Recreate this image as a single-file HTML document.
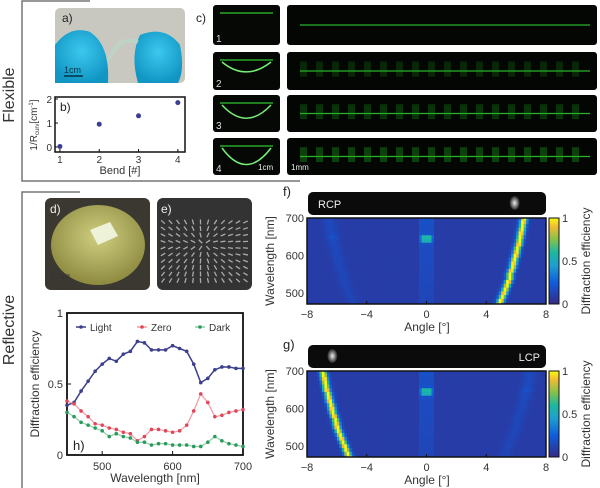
<!DOCTYPE html>
<html><head><meta charset="utf-8">
<style>
body{margin:0;background:#fff;}
svg{display:block;font-family:"Liberation Sans",sans-serif;}
</style></head>
<body>
<svg id="fig" width="600" height="488" viewBox="0 0 600 488" xmlns="http://www.w3.org/2000/svg">
<defs>
<linearGradient id="parula" x1="0" y1="1" x2="0" y2="0">
<stop offset="0" stop-color="#352a87"/><stop offset="0.25" stop-color="#0f5cdd"/><stop offset="0.45" stop-color="#1e9fd0"/><stop offset="0.6" stop-color="#1cb8a0"/><stop offset="0.75" stop-color="#84c14a"/><stop offset="0.9" stop-color="#f1bb33"/><stop offset="1" stop-color="#f9fb0e"/>
</linearGradient>
<radialGradient id="glove" cx="0.5" cy="0.4" r="0.6"><stop offset="0" stop-color="#3cc8ee"/><stop offset="1" stop-color="#1196c4"/></radialGradient>
<radialGradient id="disc" cx="0.5" cy="0.4" r="0.6"><stop offset="0" stop-color="#cfcf80"/><stop offset="1" stop-color="#8d8a40"/></radialGradient>
<radialGradient id="spot" cx="0.5" cy="0.5" r="0.5"><stop offset="0" stop-color="#eee"/><stop offset="1" stop-color="#222"/></radialGradient>
</defs>
<g stroke="#777" fill="none" stroke-width="1.5">
<path d="M90 1 H22 V181 H300"/>
<path d="M80 192 H22 V488"/>
</g>
<text x="14" y="95" font-size="16" fill="#333" text-anchor="middle" transform="rotate(-90 14 95)">Flexible</text>
<text x="14" y="330" font-size="16" fill="#333" text-anchor="middle" transform="rotate(-90 14 330)">Reflective</text>

<g>
<rect x="55" y="8" width="130" height="75" rx="5" fill="#c9c8c0"/>
<path d="M55 45 Q70 25 90 32 Q110 45 108 83 H55 Z" fill="url(#glove)"/>
<path d="M140 35 Q165 25 180 45 Q185 70 178 83 H138 Q130 55 140 35 Z" fill="url(#glove)"/>
<path d="M108 60 Q120 35 138 42" stroke="#b8d8c8" stroke-width="4" fill="none" opacity="0.7"/>
<text x="62" y="22" font-size="12" fill="#222">a)</text>
<text x="64" y="73" font-size="9" fill="#034">1cm</text>
<line x1="64" y1="76" x2="83" y2="76" stroke="#034" stroke-width="1.5"/>
</g>

<g>
<rect x="55" y="97" width="130" height="55" fill="#fff" stroke="#111" stroke-width="1.5"/>
<g id="bTicks" font-size="10" fill="#333"></g>
<g id="bPts"></g>
<text x="60" y="111" font-size="12" fill="#222">b)</text>
<text x="120" y="174" font-size="11" fill="#333" text-anchor="middle">Bend [#]</text>
<text x="37" y="125" font-size="10" fill="#333" text-anchor="middle" transform="rotate(-90 37 125)">1/R<tspan font-size="6" dy="2">curv</tspan><tspan dy="-2">[cm</tspan><tspan font-size="6" dy="-4">-1</tspan><tspan dy="4">]</tspan></text>
</g>

<text x="196" y="22" font-size="12" fill="#222">c)</text>
<g id="cPanels"></g>

<g>
<rect x="45" y="198" width="105" height="92" rx="6" fill="#3a3830"/>
<ellipse cx="98" cy="245" rx="47" ry="40" fill="url(#disc)"/>
<polygon points="90,230 110,222 118,236 98,245" fill="#eef2d8"/>
<text x="50" y="213" font-size="12" fill="#eee">d)</text>
<text x="50" y="279" font-size="9" fill="#333">5mm</text>
</g>
<g>
<rect x="157" y="198" width="95" height="92" rx="6" fill="#333"/>
<g id="ePat" stroke="#aaa" stroke-width="1.3"></g>
<text x="161" y="213" font-size="12" fill="#eee">e)</text>
</g>

<g>
<rect x="67" y="313" width="176" height="142" fill="#fff" stroke="#111" stroke-width="1.8"/>
<g id="hTicks" font-size="11" fill="#333"></g>
<g id="hSeries"></g>
<text x="73" y="450" font-size="13" fill="#222">h)</text>
<text x="155" y="482" font-size="12" fill="#333" text-anchor="middle">Wavelength [nm]</text>
<text x="39" y="384" font-size="12" fill="#333" text-anchor="middle" transform="rotate(-90 39 384)">Diffraction efficiency</text>
<g id="hLegend" font-size="10" fill="#333"></g>
</g>

<g id="heatF"></g>
<g id="heatG"></g>
</svg>
<script>
const bendX = [1, 2, 3, 4];
const bendY = [0.02, 0.95, 1.3, 1.85];
const bXTicks = [1, 2, 3, 4];
const bYTicks = [0, 1, 2];

const wl = [450,460,470,480,490,500,510,520,530,540,550,560,570,580,590,600,610,620,630,640,650,660,670,680,690,700];
const lightVals = [0.35,0.37,0.45,0.52,0.59,0.64,0.68,0.66,0.71,0.73,0.80,0.79,0.74,0.74,0.74,0.77,0.75,0.73,0.64,0.51,0.54,0.60,0.62,0.62,0.61,0.61];
const zeroVals  = [0.38,0.36,0.31,0.27,0.22,0.21,0.19,0.18,0.16,0.15,0.10,0.13,0.18,0.18,0.17,0.16,0.17,0.21,0.31,0.43,0.37,0.27,0.28,0.30,0.31,0.32];
const darkVals  = [0.30,0.27,0.23,0.21,0.19,0.17,0.13,0.15,0.13,0.12,0.09,0.09,0.07,0.08,0.08,0.07,0.07,0.07,0.06,0.06,0.09,0.13,0.10,0.08,0.07,0.06];
const hXTicks = [500, 600, 700];
const hYTicks = [0, 0.5, 1];
const hYTickLabels = ["0", "0.5", "1"];
const seriesNames = ["Light", "Zero", "Dark"];

const mapWl = [470,480,490,500,510,520,530,540,550,560,570,580,590,600,610,620,630,640,650,660,670,680,690,700];
const rcpPeak = [4.9,5.0,5.1,5.2,5.3,5.4,5.5,5.6,5.6,5.7,5.8,5.85,5.9,6.0,6.05,6.1,6.2,6.25,6.3,6.35,6.4,6.45,6.5,6.55];
const lcpPeak = [-5.2,-5.3,-5.4,-5.5,-5.6,-5.7,-5.8,-5.9,-6.0,-6.05,-6.1,-6.2,-6.3,-6.35,-6.4,-6.5,-6.55,-6.6,-6.7,-6.75,-6.8,-6.85,-6.9,-6.95];
const zeroOrder = [0.15,0.15,0.16,0.16,0.17,0.17,0.18,0.18,0.18,0.18,0.2,0.2,0.2,0.2,0.22,0.22,0.25,0.5,0.55,0.3,0.25,0.25,0.28,0.28];
const ghostOrder = [0.09,0.09,0.09,0.1,0.1,0.1,0.1,0.11,0.11,0.11,0.11,0.12,0.12,0.12,0.13,0.13,0.14,0.15,0.2,0.15,0.14,0.14,0.14,0.15];
const angleTicks = [-8, -4, 0, 4, 8];
const mapWlTicks = [500, 600, 700];
const cbTicks = [0, 0.5, 1];

const NS = "http://www.w3.org/2000/svg";
function mk(tag, attrs, parent, txt){const e=document.createElementNS(NS,tag);for(const k in attrs)e.setAttribute(k,attrs[k]);if(txt!==undefined)e.textContent=txt;parent.appendChild(e);return e;}

const bx = v => 56 + (v - 0.9) * 39.3;
const by = v => 147 - v * 24;
const bT = document.getElementById('bTicks');
bXTicks.forEach(t=>{const e=mk('text',{x:bx(t),y:163,'text-anchor':'middle'},bT,t);


mk('line',{x1:bx(t),x2:bx(t),y1:152,y2:149,stroke:'#111'},bT);});
bYTicks.forEach(t=>{const e=mk('text',{x:52,y:by(t)+4,'text-anchor':'end'},bT,t);


mk('line',{x1:55,x2:58,y1:by(t),y2:by(t),stroke:'#111'},bT);});
const bP = document.getElementById('bPts');
bendX.forEach((x,i)=>{const c=mk('circle',{cx:bx(x),cy:by(bendY[i]),r:2.5,fill:'#3c3f8f'},bP);

});

const cP = document.getElementById('cPanels');
const rows = [[5,45],[52,90],[95,132],[138,175]];
rows.forEach((r,i)=>{
  const h=r[1]-r[0];
  const s=mk('rect',{x:213,y:r[0],width:67,height:h,rx:3,fill:'#050805'},cP);
  
  
  mk('line',{x1:220,x2:273,y1:r[0]+8,y2:r[0]+8,stroke:'#3c3',opacity:0.8,'stroke-width':1.5},cP);
  if(i>0){const d=6+i*3;mk('path',{d:`M222 ${r[0]+10} Q246 ${r[0]+10+d*2.2} 271 ${r[0]+10}`,stroke:'#7e7',fill:'none','stroke-width':1.5},cP);}
  mk('text',{x:216,y:r[1]-3,'font-size':10,fill:'#ddd'},cP,i+1);
  const b=mk('rect',{x:287,y:r[0],width:310,height:h,rx:3,fill:'#030603'},cP);
  
  
  mk('line',{x1:300,x2:590,y1:r[0]+h*0.5,y2:r[0]+h*0.5,stroke:'#3d3',opacity:0.8,'stroke-width':1.2},cP);
  if(i>0){for(let k=0;k<18;k++){mk('rect',{x:300+k*16,y:r[0]+h*0.25,width:7,height:h*0.4,fill:'#2a2',opacity:0.12+0.08*i},cP);}}
});
mk('text',{x:258,y:170,'font-size':8,fill:'#eee'},cP,'1cm');
mk('text',{x:291,y:170,'font-size':8,fill:'#eee'},cP,'1mm');

const eP=document.getElementById('ePat');
for(let r=0;r<10;r++)for(let c=0;c<12;c++){const cx=163+c*7.5,cy=222+r*6.5;const a=Math.atan2(cy-244,cx-205)*0.9;
mk('line',{x1:cx-2.5*Math.cos(a),y1:cy-2.5*Math.sin(a),x2:cx+2.5*Math.cos(a),y2:cy+2.5*Math.sin(a)},eP);}

const hx = v => 67 + (v - 450) / 250 * 176;
const hy = v => 455 - v * 142;
const hT=document.getElementById('hTicks');
hXTicks.forEach(t=>{const e=mk('text',{x:hx(t),y:470,'text-anchor':'middle'},hT,t);


mk('line',{x1:hx(t),x2:hx(t),y1:455,y2:451,stroke:'#111'},hT);});
hYTicks.forEach((t,i)=>{const e=mk('text',{x:63,y:hy(t)+4,'text-anchor':'end'},hT,hYTickLabels[i]);


mk('line',{x1:67,x2:71,y1:hy(t),y2:hy(t),stroke:'#111'},hT);});
const colors=['#3b3f8c','#e0475a','#2a9a5c'];
const lineCols=['#3b3f8c','#f09aa2','#8fcfa8'];
const hS=document.getElementById('hSeries');
[lightVals,zeroVals,darkVals].forEach((vals,si)=>{
  const p=mk('polyline',{points:vals.map((v,i)=>hx(wl[i])+','+hy(v)).join(' '),fill:'none',stroke:lineCols[si],'stroke-width':si==0?1.5:1.2},hS);
  
  
  vals.forEach((v,i)=>{const c=mk('circle',{cx:hx(wl[i]),cy:hy(v),r:1.8,fill:colors[si]},hS);
  
  });
});
const hL=document.getElementById('hLegend');
[[76,0],[137,1],[195,2]].forEach(([lx,si])=>{
  const g=mk('g',{},hL);
  
  
  mk('line',{x1:lx,x2:lx+10,y1:327,y2:327,stroke:lineCols[si],'stroke-width':1.5},g);
  mk('circle',{cx:lx+5,cy:327,r:1.8,fill:colors[si]},g);
  mk('text',{x:lx+14,y:331},g,seriesNames[si]);
});

const par=[[0,[53,42,135]],[0.25,[15,92,221]],[0.45,[30,159,208]],[0.6,[28,184,160]],[0.75,[132,193,74]],[0.9,[241,187,51]],[1,[249,251,14]]];
function cmap(v){v=Math.max(0,Math.min(1,v));for(let i=1;i<par.length;i++){if(v<=par[i][0]){const a=par[i-1],b=par[i],t=(v-a[0])/(b[0]-a[0]);return 'rgb('+a[1].map((c,k)=>Math.round(c+(b[1][k]-c)*t)).join(',')+')';}}return 'rgb(249,251,14)';}
function heat(gid, top, peaks, sign, label, labelX, panel, spotX){
  const g=document.getElementById(gid);
  const L=307,R=546,T=top,B=top+86;
  const ax=a=>L+(a+8)/16*(R-L);
  const ay=w=>T+(700-w)/230*(B-T);
  mk('rect',{x:308,y:T-26,width:238,height:23,rx:5,fill:'#0b0b0b'},g);
  mk('ellipse',{cx:ax(spotX),cy:T-15,rx:5,ry:7,fill:'url(#spot)'},g);
  mk('text',{x:labelX,y:T-10,'font-size':11,fill:'#eee','text-anchor':labelX>400?'end':'start'},g,label);
  mk('text',{x:283,y:T-22,'font-size':13,fill:'#222'},g,panel);
  const cells=mk('g',{},g);
  const N=96,dA=16/N;
  mapWl.forEach((w,ri)=>{
    const y0=Math.max(T,ay(w+5)),y1=Math.min(B,ay(w-5));
    for(let c=0;c<N;c++){
      const a=-8+(c+0.5)*dA;
      let v=0.09;
      const d=a-peaks[ri];
      v+=0.91*Math.exp(-d*d/(2*0.16*0.16));
      if(sign*d<0&&Math.abs(d)<0.6) v+=0.15*(1-Math.abs(d)/0.6);
      if(Math.abs(a)<0.5) v+=zeroOrder[ri]*(ri>=17&&ri<=18&&Math.abs(a)<0.35?0.9:0.35);
      const ga=-peaks[ri];
      v+=ghostOrder[ri]*0.5*Math.exp(-(a-ga)*(a-ga)/(2*0.3*0.3));
      const r=mk('rect',{x:ax(a-dA/2),y:y0,width:(R-L)/N+0.4,height:y1-y0+0.4,fill:cmap(v)},cells);
      
      
    }
  });
  mk('rect',{x:L,y:T,width:R-L,height:B-T,fill:'none',stroke:'#111','stroke-width':1.5},g);
  angleTicks.forEach(t=>{const e=mk('text',{x:ax(t),y:B+14,'font-size':11,fill:'#333','text-anchor':'middle'},g,t===-8||t===-4?'\u2212'+(-t):t);
  
  
  mk('line',{x1:ax(t),x2:ax(t),y1:B,y2:B-3,stroke:'#111'},g);});
  mapWlTicks.forEach(t=>{const e=mk('text',{x:304,y:ay(t)+4,'font-size':11,fill:'#333','text-anchor':'end'},g,t);
  
  });
  mk('text',{x:427,y:B+27,'font-size':12,fill:'#333','text-anchor':'middle'},g,'Angle [°]');
  mk('text',{x:274,y:(T+B)/2,'font-size':12,fill:'#333','text-anchor':'middle',transform:`rotate(-90 274 ${(T+B)/2})`},g,'Wavelength [nm]');
  const cb=mk('rect',{x:549,y:T,width:10,height:B-T,fill:'url(#parula)',stroke:'#111'},g);
  
  
  cbTicks.forEach(t=>{mk('text',{x:562,y:B-t*(B-T)+4,'font-size':11,fill:'#333'},g,t);});
  mk('text',{x:590,y:(T+B)/2,'font-size':12,fill:'#333','text-anchor':'middle',transform:`rotate(-90 590 ${(T+B)/2})`},g,'Diffraction efficiency');
}
heat('heatF',218,rcpPeak,1,'RCP',318,'f)',5.9);
heat('heatG',371,lcpPeak,-1,'LCP',540,'g)',-6.3);
</script>
</body></html>
